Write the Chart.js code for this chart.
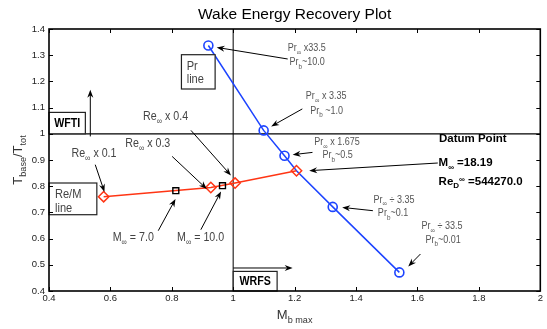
<!DOCTYPE html>
<html>
<head>
<meta charset="utf-8">
<script src="https://cdn.jsdelivr.net/npm/chart.js@4/dist/chart.umd.min.js"></script>
<style>
  html, body { margin: 0; padding: 0; background: #fff; overflow: hidden; }
  #wrap { width: 547px; height: 329px; }
</style>
</head>
<body>
<div id="wrap"><canvas id="c" width="547" height="329"></canvas></div>
<script>
// Prandtl-number sweep (blue line); the 4th point is the datum, drawn without its own circle
const prX = [0.919, 1.099, 1.167, 1.206, 1.324, 1.541];
const prY = [1.337, 1.013, 0.916, 0.859, 0.721, 0.471];
const prMarker = [4.5, 4.5, 4.5, 0, 4.5, 4.5];

// Reynolds / Mach sweep (red line), ending at the datum point
const reX = [0.578, 0.927, 1.006, 1.206];
const reY = [0.760, 0.795, 0.812, 0.859];

// Free-stream Mach 7.0 and 10.0 points on the Re/M line
const machX = [0.813, 0.965];
const machY = [0.783, 0.802];

// Axis ticks
const xTicks = [0.4, 0.6, 0.8, 1.0, 1.2, 1.4, 1.6, 1.8, 2.0];
const xTickLabels = ['0.4', '0.6', '0.8', '1', '1.2', '1.4', '1.6', '1.8', '2'];
const yTicks = [0.4, 0.5, 0.6, 0.7, 0.8, 0.9, 1.0, 1.1, 1.2, 1.3, 1.4];
const yTickLabels = ['0.4', '0.5', '0.6', '0.7', '0.8', '0.9', '1', '1.1', '1.2', '1.3', '1.4'];

const BLUE = '#1d44ff';
const RED = '#ff3514';
const NARROW = '"Liberation Sans Narrow", "Arial Narrow", "Liberation Sans", Arial, sans-serif';
const SANS = '"Liberation Sans", Arial, Helvetica, sans-serif';

const pts = (xs, ys) => xs.map((x, i) => ({ x, y: ys[i] }));

// Annotation arrows in data units: [tailX, tailY, headX, headY]
const arrows = [
  [1.1774, 1.2855, 0.9461, 1.3298],
  [1.2250, 1.0950, 1.1235, 1.0282],
  [1.2581, 0.9290, 1.1935, 0.9202],
  [1.6661, 0.8885, 1.2474, 0.8592],
  [1.4548, 0.7065, 1.3548, 0.7191],
  [1.6097, 0.5412, 1.5700, 0.4939],
  [0.5506, 0.8821, 0.5806, 0.7779],
  [0.8010, 0.9137, 0.9139, 0.7893],
  [0.8623, 1.0130, 0.9926, 0.8412],
  [0.7558, 0.6302, 0.8119, 0.7511],
  [0.8945, 0.6340, 0.9603, 0.7802],
  [0.5345, 0.9900, 0.5345, 1.1683],
  [1.0000, 0.4878, 1.1935, 0.4878]
];

// Annotation texts (left edge, vertical middle, data units)
const notes = [
  { x: 1.1774, y: 1.3275, t: 'Pr_{∞} x33.5', s: 11, c: '#555' },
  { x: 1.1829, y: 1.2725, t: 'Pr_{b}~10.0', s: 11, c: '#555' },
  { x: 1.2365, y: 1.1427, t: 'Pr_{∞} x 3.35', s: 11, c: '#555' },
  { x: 1.2506, y: 1.0882, t: 'Pr_{b} ~1.0', s: 11, c: '#555' },
  { x: 1.2635, y: 0.9687, t: 'Pr_{∞} x 1.675', s: 11, c: '#555' },
  { x: 1.2903, y: 0.9176, t: 'Pr_{b}~0.5', s: 11, c: '#555' },
  { x: 1.4571, y: 0.7485, t: 'Pr_{∞} ÷ 3.35', s: 11, c: '#555' },
  { x: 1.4710, y: 0.6977, t: 'Pr_{b}~0.1', s: 11, c: '#555' },
  { x: 1.6129, y: 0.6466, t: 'Pr_{∞} ÷ 33.5', s: 11, c: '#555' },
  { x: 1.6258, y: 0.5958, t: 'Pr_{b}~0.01', s: 11, c: '#555' },
  { x: 0.4732, y: 0.9267, t: 'Re_{∞} x 0.1', s: 13, c: '#444' },
  { x: 0.6484, y: 0.9622, t: 'Re_{∞} x 0.3', s: 13, c: '#444' },
  { x: 0.7065, y: 1.0664, t: 'Re_{∞} x 0.4', s: 13, c: '#444' },
  { x: 0.6074, y: 0.6046, t: 'M_{∞} = 7.0', s: 13, c: '#444' },
  { x: 0.8171, y: 0.6046, t: 'M_{∞} = 10.0', s: 13, c: '#444' }
];

// Datum point description (bold)
const datumNotes = [
  { x: 1.670, y: 0.9802, t: 'Datum Point' },
  { x: 1.6687, y: 0.8885, t: 'M_{∞} =18.19' },
  { x: 1.6687, y: 0.8183, t: 'Re_{D}^{∞} =544270.0' }
];

// Boxed labels: corners and text lines, data units
const boxes = [
  { x0: 0.8313, y0: 1.3019, x1: 0.9410, y1: 1.1710, lines: ['Pr', 'line'], tx: 0.8484, ty: [1.2573, 1.2065], s: 13.5, bold: false, c: '#444' },
  { x0: 0.4000, y0: 1.0817, x1: 0.5184, y1: 1.0000, lines: ['WFTI'], tx: 0.4592, ty: [1.0405], s: 13, bold: true, c: '#000', center: true },
  { x0: 0.4000, y0: 0.8122, x1: 0.5558, y1: 0.6912, lines: ['Re/M', 'line'], tx: 0.4194, ty: [0.7676, 0.7168], s: 13.5, bold: false, c: '#444' },
  { x0: 1.0000, y0: 0.4748, x1: 1.1429, y1: 0.4000, lines: ['WRFS'], tx: 1.0714, ty: [0.4374], s: 13, bold: true, c: '#000', center: true }
];

let narrowOK = false;
(function () {
  const t = document.createElement('canvas').getContext('2d');
  t.font = '20px "Liberation Sans Narrow", monospace';
  const a = t.measureText('Narrow test 0.123').width;
  t.font = '20px monospace';
  const b = t.measureText('Narrow test 0.123').width;
  narrowOK = Math.abs(a - b) > 0.5;
})();

// Text with _{sub} and ^{sup} runs
function drawRich(ctx, str, x, y, o) {
  const parts = [];
  const re = /([_^])\{([^}]*)\}/g;
  let last = 0, m;
  while ((m = re.exec(str))) {
    if (m.index > last) parts.push({ t: str.slice(last, m.index), k: '' });
    parts.push({ t: m[2], k: m[1] });
    last = re.lastIndex;
  }
  if (last < str.length) parts.push({ t: str.slice(last), k: '' });
  const sx = (o.narrow && !narrowOK) ? 0.82 : 1;
  const fam = o.narrow ? NARROW : SANS;
  const fontOf = p => `${o.weight || 'normal'} ${p.k ? o.size * 0.7 : o.size}px ${fam}`;
  let total = 0;
  for (const p of parts) { ctx.font = fontOf(p); p.w = ctx.measureText(p.t).width * sx; total += p.w; }
  let cx = o.align === 'center' ? x - total / 2 : x;
  ctx.save();
  ctx.fillStyle = o.color || '#000';
  ctx.textBaseline = 'middle';
  ctx.textAlign = 'left';
  for (const p of parts) {
    ctx.font = fontOf(p);
    const dy = p.k === '_' ? o.size * 0.4 : p.k === '^' ? -o.size * 0.1 : 0;
    ctx.save();
    ctx.translate(cx, y + dy);
    ctx.scale(sx, 1);
    ctx.fillText(p.t, 0, 0);
    ctx.restore();
    cx += p.w;
  }
  ctx.restore();
}

function drawArrow(ctx, x1, y1, x2, y2) {
  const ang = Math.atan2(y2 - y1, x2 - x1);
  const L = 8, W = 3;
  ctx.save();
  ctx.strokeStyle = '#000';
  ctx.fillStyle = '#000';
  ctx.lineWidth = 1;
  ctx.beginPath();
  ctx.moveTo(x1, y1);
  ctx.lineTo(x2 - Math.cos(ang) * 4, y2 - Math.sin(ang) * 4);
  ctx.stroke();
  ctx.translate(x2, y2);
  ctx.rotate(ang);
  ctx.beginPath();
  ctx.moveTo(0, 0);
  ctx.lineTo(-L, -W);
  ctx.lineTo(-L + 2.5, 0);
  ctx.lineTo(-L, W);
  ctx.closePath();
  ctx.fill();
  ctx.restore();
}

const overlay = {
  id: 'overlay',
  beforeDatasetsDraw(chart) {
    const { ctx, chartArea: a, scales: { x, y } } = chart;
    ctx.save();
    // x = 1 reference line
    ctx.strokeStyle = '#555';
    ctx.lineWidth = 1.5;
    ctx.beginPath();
    ctx.moveTo(x.getPixelForValue(1), a.top);
    ctx.lineTo(x.getPixelForValue(1), a.bottom);
    ctx.stroke();
    // y = 1 reference line
    ctx.strokeStyle = '#000';
    ctx.lineWidth = 1.3;
    ctx.beginPath();
    ctx.moveTo(a.left, y.getPixelForValue(1));
    ctx.lineTo(a.right, y.getPixelForValue(1));
    ctx.stroke();
    ctx.restore();
  },
  afterDatasetsDraw(chart) {
    const { ctx, chartArea: a, scales: { x, y } } = chart;
    const px = v => x.getPixelForValue(v);
    const py = v => y.getPixelForValue(v);

    // arrows
    arrows.forEach(r => drawArrow(ctx, px(r[0]), py(r[1]), px(r[2]), py(r[3])));

    // boxed labels
    boxes.forEach(b => {
      const l = px(b.x0), t = py(b.y0), r = px(b.x1), btm = py(b.y1);
      ctx.save();
      ctx.fillStyle = '#fff';
      ctx.fillRect(l, t, r - l, btm - t);
      ctx.strokeStyle = '#222';
      ctx.lineWidth = 1.2;
      ctx.strokeRect(l, t, r - l, btm - t);
      ctx.restore();
      b.lines.forEach((s, i) => drawRich(ctx, s, px(b.tx), py(b.ty[i]), {
        size: b.s, weight: b.bold ? 'bold' : 'normal', color: b.c, narrow: true, align: b.center ? 'center' : 'left'
      }));
    });

    // free annotations
    notes.forEach(n => drawRich(ctx, n.t, px(n.x), py(n.y), { size: n.s, color: n.c, narrow: true }));
    datumNotes.forEach(n => drawRich(ctx, n.t, px(n.x), py(n.y), { size: 11.5, weight: 'bold', color: '#000' }));

    // frame with inward ticks on all four sides
    ctx.save();
    ctx.strokeStyle = '#000';
    ctx.lineWidth = 1;
    ctx.beginPath();
    xTicks.forEach(v => {
      const p = Math.round(px(v)) + 0.5;
      ctx.moveTo(p, a.bottom); ctx.lineTo(p, a.bottom - 4);
      ctx.moveTo(p, a.top); ctx.lineTo(p, a.top + 4);
    });
    yTicks.forEach(v => {
      const p = Math.round(py(v)) + 0.5;
      ctx.moveTo(a.left, p); ctx.lineTo(a.left + 4, p);
      ctx.moveTo(a.right, p); ctx.lineTo(a.right - 4, p);
    });
    ctx.stroke();
    ctx.lineWidth = 1.6;
    ctx.strokeRect(a.left, a.top, a.right - a.left, a.bottom - a.top);
    ctx.restore();
  },
  afterDraw(chart) {
    const { ctx, chartArea: a } = chart;
    const cx = (a.left + a.right) / 2;
    // title
    ctx.save();
    ctx.font = `15.5px ${SANS}`;
    ctx.fillStyle = '#000';
    ctx.textAlign = 'center';
    ctx.textBaseline = 'middle';
    ctx.fillText('Wake Energy Recovery Plot', cx, 15);
    ctx.restore();
    // axis titles
    drawRich(ctx, 'M_{b max}', cx, 315, { size: 13, color: '#333', align: 'center' });
    ctx.save();
    ctx.translate(18, (a.top + a.bottom) / 2);
    ctx.rotate(-Math.PI / 2);
    drawRich(ctx, 'T_{base}/T_{tot}', 0, 0, { size: 13, color: '#333', align: 'center' });
    ctx.restore();
  }
};

const tickFont = { family: narrowOK ? NARROW : SANS, size: narrowOK ? 10.5 : 9.5 };

new Chart(document.getElementById('c'), {
  type: 'scatter',
  data: {
    datasets: [
      {
        label: 'Pr line',
        data: pts(prX, prY),
        showLine: true,
        borderColor: BLUE,
        borderWidth: 1.5,
        pointStyle: 'circle',
        pointRadius: prMarker,
        pointBorderColor: BLUE,
        pointBackgroundColor: 'rgba(0,0,0,0)',
        pointBorderWidth: 1.6,
        order: 3
      },
      {
        label: 'Re/M line',
        data: pts(reX, reY),
        showLine: true,
        borderColor: RED,
        borderWidth: 1.5,
        pointStyle: 'rectRot',
        pointRadius: 5.2,
        pointBorderColor: RED,
        pointBackgroundColor: 'rgba(0,0,0,0)',
        pointBorderWidth: 1.5,
        order: 2
      },
      {
        label: 'Mach',
        data: pts(machX, machY),
        showLine: false,
        pointStyle: 'rect',
        pointRadius: 4.2,
        pointBorderColor: '#000',
        pointBackgroundColor: 'rgba(0,0,0,0)',
        pointBorderWidth: 1.4,
        order: 1
      }
    ]
  },
  options: {
    responsive: false,
    animation: false,
    devicePixelRatio: 1,
    layout: { padding: { left: 0, right: 2, top: 29, bottom: 0 } },
    plugins: { legend: { display: false }, tooltip: { enabled: false }, title: { display: false } },
    scales: {
      x: {
        type: 'linear',
        min: 0.4,
        max: 2.0,
        afterBuildTicks: s => { s.ticks = xTicks.map(v => ({ value: v })); },
        ticks: {
          autoSkip: false,
          maxRotation: 0,
          padding: 2,
          color: '#222',
          font: tickFont,
          callback: (v) => xTickLabels[xTicks.findIndex(t => Math.abs(t - v) < 1e-6)]
        },
        grid: { display: false, drawTicks: false },
        border: { display: false },
        afterFit: s => { s.height = 38; s.paddingLeft = 0; s.paddingRight = 0; }
      },
      y: {
        type: 'linear',
        min: 0.4,
        max: 1.4,
        afterBuildTicks: s => { s.ticks = yTicks.map(v => ({ value: v })); },
        ticks: {
          autoSkip: false,
          padding: 4,
          color: '#222',
          font: tickFont,
          callback: (v) => yTickLabels[yTicks.findIndex(t => Math.abs(t - v) < 1e-6)]
        },
        grid: { display: false, drawTicks: false },
        border: { display: false },
        afterFit: s => { s.width = 49; s.paddingTop = 0; s.paddingBottom = 0; }
      }
    }
  },
  plugins: [overlay]
});
</script>
</body>
</html>
